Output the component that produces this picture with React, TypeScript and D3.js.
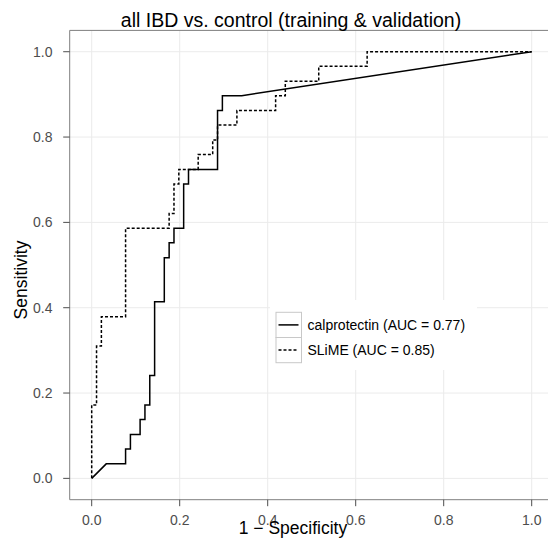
import React from "react";
import * as d3 from "d3";

// ROC curve coordinates (false positive rate, true positive rate)
const calprotectinFpr = [0, 0.033, 0.077, 0.077, 0.088, 0.088, 0.110, 0.110, 0.121, 0.121, 0.132, 0.132, 0.143, 0.143, 0.165, 0.165, 0.176, 0.176, 0.187, 0.187, 0.209, 0.209, 0.220, 0.220, 0.286, 0.286, 0.297, 0.297, 0.341, 1];
const calprotectinTpr = [0, 0.034, 0.034, 0.069, 0.069, 0.103, 0.103, 0.138, 0.138, 0.172, 0.172, 0.241, 0.241, 0.414, 0.414, 0.517, 0.517, 0.552, 0.552, 0.586, 0.586, 0.690, 0.690, 0.724, 0.724, 0.862, 0.862, 0.897, 0.897, 1];

const slimeFpr = [0, 0, 0.011, 0.011, 0.022, 0.022, 0.077, 0.077, 0.176, 0.176, 0.187, 0.187, 0.198, 0.198, 0.242, 0.242, 0.275, 0.275, 0.286, 0.286, 0.330, 0.330, 0.418, 0.418, 0.440, 0.440, 0.516, 0.516, 0.626, 0.626, 1];
const slimeTpr = [0, 0.172, 0.172, 0.310, 0.310, 0.379, 0.379, 0.586, 0.586, 0.621, 0.621, 0.690, 0.690, 0.724, 0.724, 0.759, 0.759, 0.793, 0.793, 0.828, 0.828, 0.862, 0.862, 0.897, 0.897, 0.931, 0.931, 0.966, 0.966, 1, 1];

const tickValues = [0, 0.2, 0.4, 0.6, 0.8, 1.0];
const legendLabels = ["calprotectin (AUC = 0.77)", "SLiME (AUC = 0.85)"];
const legendDashes = ["none", "3,2"];

const W = 548;
const H = 544;
const FONT = "'Liberation Sans', Arial, Helvetica, sans-serif";

export default function App() {
  const x = d3.scaleLinear().domain([-0.05, 1.05]).range([69.7, 553.7]);
  const y = d3.scaleLinear().domain([-0.05, 1.05]).range([499.7, 30.4]);

  const line = d3
    .line<[number, number]>()
    .x((d) => x(d[0]))
    .y((d) => y(d[1]));

  const calPts: [number, number][] = calprotectinFpr.map((v, i) => [v, calprotectinTpr[i]]);
  const slimePts: [number, number][] = slimeFpr.map((v, i) => [v, slimeTpr[i]]);

  const left = x.range()[0];
  const top = y.range()[1];
  const bottom = y.range()[0];
  const grid = "#ebebeb";
  const axisCol = "#7f7f7f";
  const tickCol = "#4d4d4d";

  return (
    <svg
      width={W}
      height={H}
      style={{ position: "absolute", left: 0, top: 0, background: "#fff" }}
      fontFamily={FONT}
    >
      <rect x={0} y={0} width={W} height={H} fill="#fff" />
      {/* grid */}
      {tickValues.map((t) => (
        <line key={"gx" + t} x1={x(t)} x2={x(t)} y1={top} y2={bottom} stroke={grid} strokeWidth={1} />
      ))}
      {tickValues.map((t) => (
        <line key={"gy" + t} x1={left} x2={W} y1={y(t)} y2={y(t)} stroke={grid} strokeWidth={1} />
      ))}

      {/* curves */}
      <path d={line(calPts) || ""} fill="none" stroke="#000" strokeWidth={1.5} />
      <path d={line(slimePts) || ""} fill="none" stroke="#000" strokeWidth={1.5} strokeDasharray="3,2" />

      {/* panel border */}
      <line x1={left} x2={left} y1={top} y2={bottom} stroke={axisCol} strokeWidth={1} />
      <line x1={left} x2={W} y1={top} y2={top} stroke={axisCol} strokeWidth={1} />
      <line x1={left} x2={W} y1={bottom} y2={bottom} stroke={axisCol} strokeWidth={1} />

      {/* y axis */}
      {tickValues.map((t) => (
        <g key={"ty" + t}>
          <line x1={left - 6.5} x2={left} y1={y(t)} y2={y(t)} stroke={tickCol} strokeWidth={1} />
          <text x={52.5} y={y(t)} dy="0.35em" textAnchor="end" fontSize={14} fill={tickCol}>
            {t.toFixed(1)}
          </text>
        </g>
      ))}
      {/* x axis */}
      {tickValues.map((t) => (
        <g key={"tx" + t}>
          <line x1={x(t)} x2={x(t)} y1={bottom} y2={bottom + 6.5} stroke={tickCol} strokeWidth={1} />
          <text x={x(t)} y={525} textAnchor="middle" fontSize={14} fill={tickCol}>
            {t.toFixed(1)}
          </text>
        </g>
      ))}

      {/* titles */}
      <text x={291} y={26.5} textAnchor="middle" fontSize={19.5} fill="#000">
        all IBD vs. control (training &amp; validation)
      </text>
      <text x={293} y={534} textAnchor="middle" fontSize={17.5} fill="#000">
        1 − Specificity
      </text>
      <text
        transform="translate(26.5,280) rotate(-90)"
        textAnchor="middle"
        fontSize={17.5}
        fill="#000"
      >
        Sensitivity
      </text>

      {/* legend */}
      <rect x={270} y={300} width={207} height={70} fill="#fff" />
      {legendLabels.map((lab, i) => {
        const ky = 312.3 + i * 25.2;
        return (
          <g key={lab}>
            <rect x={276} y={ky} width={25.5} height={25.2} fill="#fff" stroke="#c8c8c8" strokeWidth={1} />
            <line
              x1={278.5}
              x2={298.5}
              y1={ky + 12.6}
              y2={ky + 12.6}
              stroke="#000"
              strokeWidth={1.5}
              strokeDasharray={legendDashes[i]}
            />
            <text x={307.5} y={ky + 12.6} dy="0.35em" fontSize={14} fill="#000">
              {lab}
            </text>
          </g>
        );
      })}
    </svg>
  );
}
